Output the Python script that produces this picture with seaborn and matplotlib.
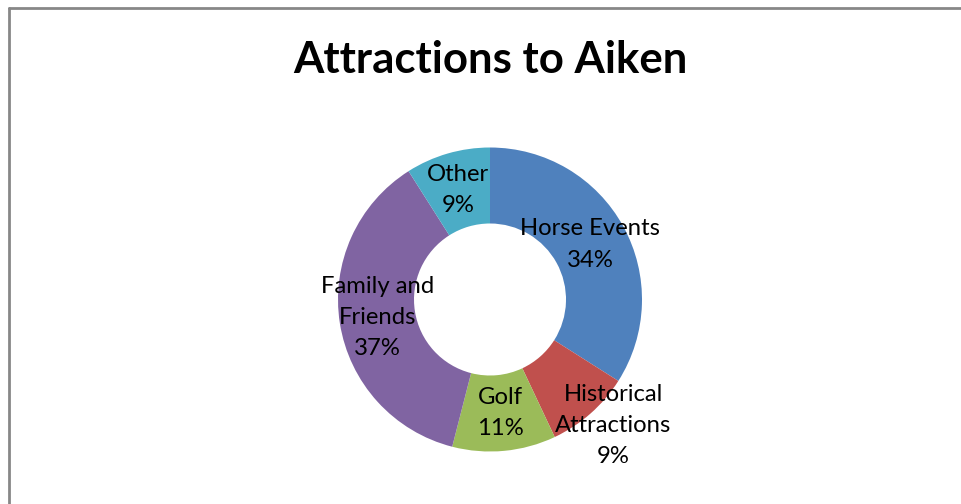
import numpy as np
import matplotlib
matplotlib.use("Agg")
import matplotlib.pyplot as plt
from matplotlib.lines import Line2D
import seaborn as sns

# Survey results
categories = ["Horse Events", "Historical\nAttractions", "Golf", "Family and\nFriends", "Other"]
shares = [34, 9, 11, 37, 9]
slice_colors = ["#4F81BD", "#C0504D", "#9BBB59", "#8064A2", "#4BACC6"]

sns.set_theme(style="white")
plt.rcParams["font.family"] = ["Lato", "DejaVu Sans"]
palette = sns.color_palette(slice_colors)

W, H, DPI = 961, 504, 100
fig = plt.figure(figsize=(W / DPI, H / DPI), dpi=DPI)
fig.patch.set_facecolor("white")

# Donut placement (pixels): centre and outer radius
cx, cy_top, R = 490, 299.5, 152
lim = 1.1
half = lim * R
ax = fig.add_axes([(cx - half) / W, (H - cy_top - half) / H, 2 * half / W, 2 * half / H])

wedges, _ = ax.pie(
    shares,
    colors=palette,
    startangle=90,
    counterclock=False,
    radius=1.0,
    wedgeprops=dict(width=0.5, linewidth=0),
)
ax.set_xlim(-lim, lim)
ax.set_ylim(-lim, lim)
ax.set_aspect("equal")
ax.axis("off")

# Category labels with percentages, placed on the ring (one pushed outside)
total = sum(shares)
dist = [0.75, 1.16, 0.75, 0.75, 0.75]
shift = [0, 3, 0, 0, 0]  # degrees
for w, name, val, d, s in zip(wedges, categories, shares, dist, shift):
    mid = np.deg2rad((w.theta1 + w.theta2) / 2 + s)
    ax.text(d * np.cos(mid), d * np.sin(mid), f"{name}\n{round(100 * val / total)}%",
            ha="center", va="center", fontsize=17.2, color="black",
            linespacing=1.6, clip_on=False)

fig.text(cx / W, 1 - 60 / H, "Attractions to Aiken", ha="center", va="center",
         fontsize=31.5, fontweight="bold", color="black")

# Chart area frame (top and left edges)
frame_c = "#878787"
fig.add_artist(Line2D([9 / W, 1.0], [1 - 7.5 / H, 1 - 7.5 / H], color=frame_c, lw=2.0,
                      transform=fig.transFigure))
fig.add_artist(Line2D([9 / W, 9 / W], [0.0, 1 - 7.5 / H], color=frame_c, lw=2.0,
                      transform=fig.transFigure))

fig.savefig("out.png", dpi=DPI, facecolor="white")
